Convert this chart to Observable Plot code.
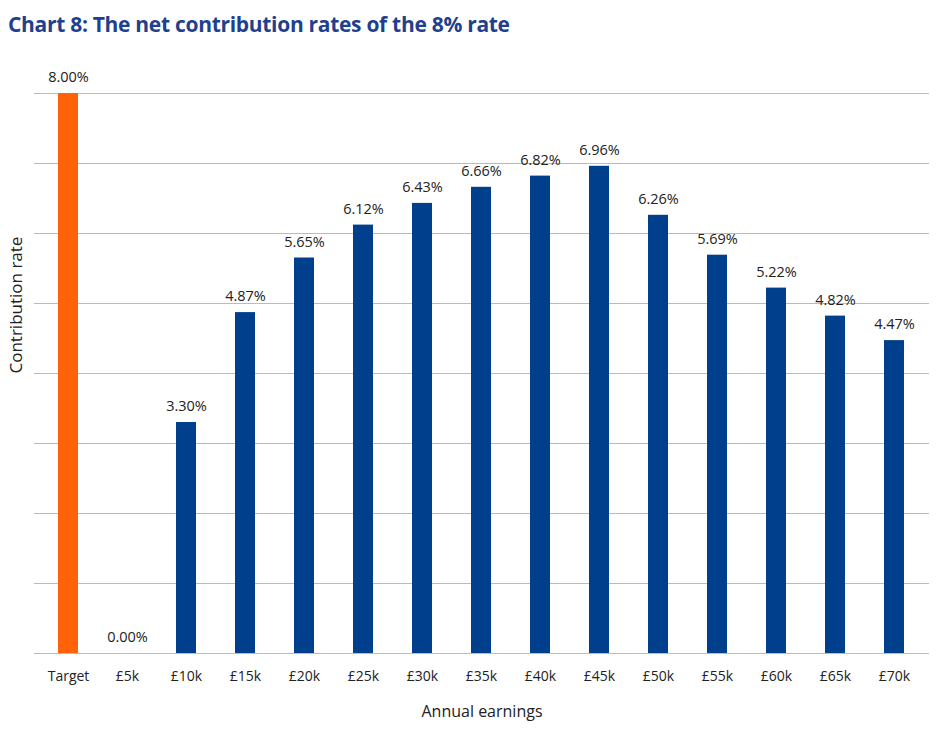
<!DOCTYPE html>
<html><head><meta charset="utf-8">
<script src="https://cdn.jsdelivr.net/npm/d3@7"></script>
<script src="https://cdn.jsdelivr.net/npm/@observablehq/plot@0.6"></script>
<style>
body{margin:0;background:#fff;font-family:"Open Sans",sans-serif;}
#title{height:45px;box-sizing:border-box;padding:10px 0 0 8px;font-size:21px;font-weight:bold;color:#1f3f8f;font-family:"Open Sans",sans-serif;letter-spacing:-0.3px}
</style></head><body>
<div id="title">Chart 8: The net contribution rates of the 8% rate</div>
<div id="chart"></div>
<script>
const categories = ["Target","£5k","£10k","£15k","£20k","£25k","£30k","£35k","£40k","£45k","£50k","£55k","£60k","£65k","£70k"];
const rates = [8.00,0.00,3.30,4.87,5.65,6.12,6.43,6.66,6.82,6.96,6.26,5.69,5.22,4.82,4.47];
const gridTicks = [1,2,3,4,5,6,7,8];
const data = categories.map((c,i)=>({c, v:rates[i], target:i===0}));
const chart = Plot.plot({
  width:941, height:690, marginTop:48, marginBottom:82, marginLeft:34, marginRight:12,
  style:{fontFamily:"Open Sans, sans-serif", fontSize:"14px", color:"#222"},
  x:{domain:categories, paddingInner:0.66, paddingOuter:0.33, label:null, tickSize:0, tickPadding:18},
  y:{domain:[0,8], axis:null},
  marks:[
    Plot.gridY(gridTicks,{stroke:"#bbb", strokeOpacity:1}),
    Plot.ruleY([0],{stroke:"#bbb"}),
    Plot.barY(data,{x:"c", y:"v", fill:d=>d.target?"#ff6209":"#003f8c"}),
    Plot.text(data,{x:"c", y:"v", text:d=>d.v.toFixed(2)+"%", dy:-16, fontSize:14.5, fill:"#222"}),
    Plot.text(["Contribution rate"],{frameAnchor:"left", rotate:-90, dx:-18, fontSize:17, fill:"#222"}),
    Plot.text(["Annual earnings"],{frameAnchor:"bottom", dy:63, fontSize:16, fill:"#222"})
  ]
});
document.getElementById("chart").append(chart);
</script></body></html>
